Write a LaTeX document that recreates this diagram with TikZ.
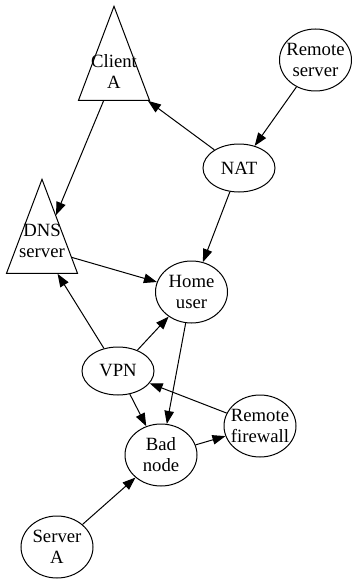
\documentclass[tikz,border=0pt]{standalone}
\usepackage{fontspec}
\setmainfont{Liberation Serif}
\usetikzlibrary{arrows.meta,shapes.geometric}
\begin{document}
\begin{tikzpicture}[x=1pt,y=-1pt,
  every node/.style={font=\fontsize{18.7}{21}\selectfont},
  ell/.style={draw,ellipse,line width=1pt,minimum width=72pt,minimum height=62pt,inner sep=0pt},
  small/.style={minimum height=48pt},
  tri/.style={draw,isosceles triangle,shape border rotate=90,isosceles triangle stretches,
     minimum width=71pt,minimum height=94pt,inner sep=0pt,line width=1pt,anchor=apex},
  lbl/.style={align=center,inner sep=0pt},
  edge/.style={-{Triangle[length=13pt,width=9.5pt]},line width=1pt}]
\useasboundingbox (0,0) rectangle (352,583);
% triangles
\node[tri] (ca) at (114,5) {};
\node[lbl] (ca-t) at (114,72) {Client\\A};
\node[tri] (dns) at (42,178) {};
\node[lbl] (dns-t) at (42,241) {DNS\\server};
% ellipses
\node[ell] (rs) at (315.5,60) {};
\node[lbl] (rs-t) at (rs) {Remote\\server};
\node[ell,small] (nat) at (239,168) {};
\node[lbl] (nat-t) at (nat) {NAT};
\node[ell] (hu) at (191.5,292) {};
\node[lbl] (hu-t) at (hu) {Home\\user};
\node[ell,small] (vpn) at (118,371) {};
\node[lbl] (vpn-t) at (vpn) {VPN};
\node[ell] (bad) at (161,455) {};
\node[lbl] (bad-t) at (bad) {Bad\\node};
\node[ell] (rf) at (260,426) {};
\node[lbl] (rf-t) at (rf) {Remote\\firewall};
\node[ell] (sa) at (57,547) {};
\node[lbl] (sa-t) at (sa) {Server\\A};
% edges
\draw[edge] (ca) -- (dns);
\draw[edge] (nat) -- (ca);
\draw[edge] (rs) -- (nat);
\draw[edge] (nat) -- (hu);
\draw[edge] (dns) -- (hu);
\draw[edge] (vpn) -- (dns);
\draw[edge] (vpn) -- (hu);
\draw[edge] (hu) -- (bad);
\draw[edge] (vpn) -- (bad);
\draw[edge] (rf) -- (vpn);
\draw[edge] (bad) -- (rf);
\draw[edge] (sa) -- (bad);
\end{tikzpicture}
\end{document}
